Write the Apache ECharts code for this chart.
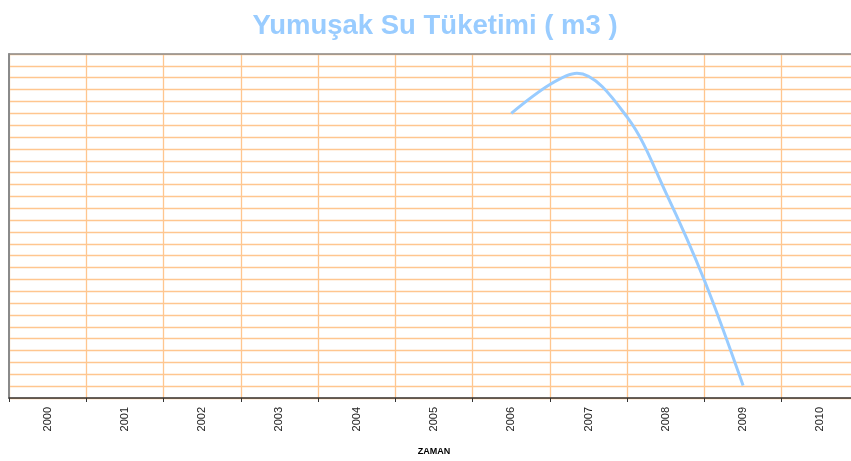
<!DOCTYPE html>
<html>
<head>
<meta charset="utf-8">
<script src="https://cdn.jsdelivr.net/npm/echarts@6/dist/echarts.min.js"></script>
<style>html,body{margin:0;padding:0;background:#fff}#c{width:851px;height:461px}</style>
</head>
<body>
<div id="c"></div>
<script>
var years = ['2000','2001','2002','2003','2004','2005','2006','2007','2008','2009','2010'];
var lineX = [6, 6.5, 6.85, 7.5, 8, 8.5, 9];
var lineY = [24.0, 26.43, 27.38, 23.67, 17.32, 9.91, 1.05];
var titleText = 'Yumuşak Su Tüketimi ( m3 )';
var xName = 'ZAMAN';

var chart = echarts.init(document.getElementById('c'), null, {renderer: 'canvas'});
var grid = '#FFC68F';
var font = 'Liberation Sans, Arial, sans-serif';
chart.setOption({
  animation: false,
  title: {
    text: titleText, left: 430, top: 7, textAlign: 'center',
    textStyle: {fontFamily: font, fontSize: 27.5, fontWeight: 'bold', color: '#99CCFF'}
  },
  grid: {left: 9, top: 54, width: 850, height: 344, outerBoundsMode: 'none', containLabel: false},
  xAxis: [{
    type: 'category', data: years, boundaryGap: true,
    name: xName, nameLocation: 'middle', nameGap: 49,
    nameTextStyle: {fontFamily: font, fontSize: 9, fontWeight: 'bold', color: '#000'},
    axisLine: {onZero: false, lineStyle: {color: '#333', width: 1.5}},
    axisTick: {show: true, length: 4, lineStyle: {color: '#333'}},
    axisLabel: {rotate: 90, margin: 9, fontFamily: font, fontSize: 11, color: '#222'},
    splitLine: {show: true, lineStyle: {color: grid, width: 1.3}}
  }, {
    type: 'value', min: -0.5, max: 10.5, show: false
  }, {
    type: 'category', data: years, position: 'top', boundaryGap: true,
    axisLine: {onZero: false, lineStyle: {color: '#8a8a8a', width: 1.5}},
    axisTick: {show: false}, axisLabel: {show: false}, splitLine: {show: false}
  }],
  yAxis: {
    type: 'value', min: 0, max: 29, interval: 1,
    axisLine: {show: true, onZero: false, lineStyle: {color: '#8a8a8a', width: 2}},
    axisTick: {show: false}, axisLabel: {show: false},
    splitLine: {show: true, lineStyle: {color: grid, width: 1.3}}
  },
  series: [{
    type: 'line', xAxisIndex: 1, smooth: 0.35, symbol: 'none',
    data: lineX.map(function (x, i) { return [x, lineY[i]]; }),
    lineStyle: {color: '#99CCFF', width: 3}
  }]
});
</script>
</body>
</html>
